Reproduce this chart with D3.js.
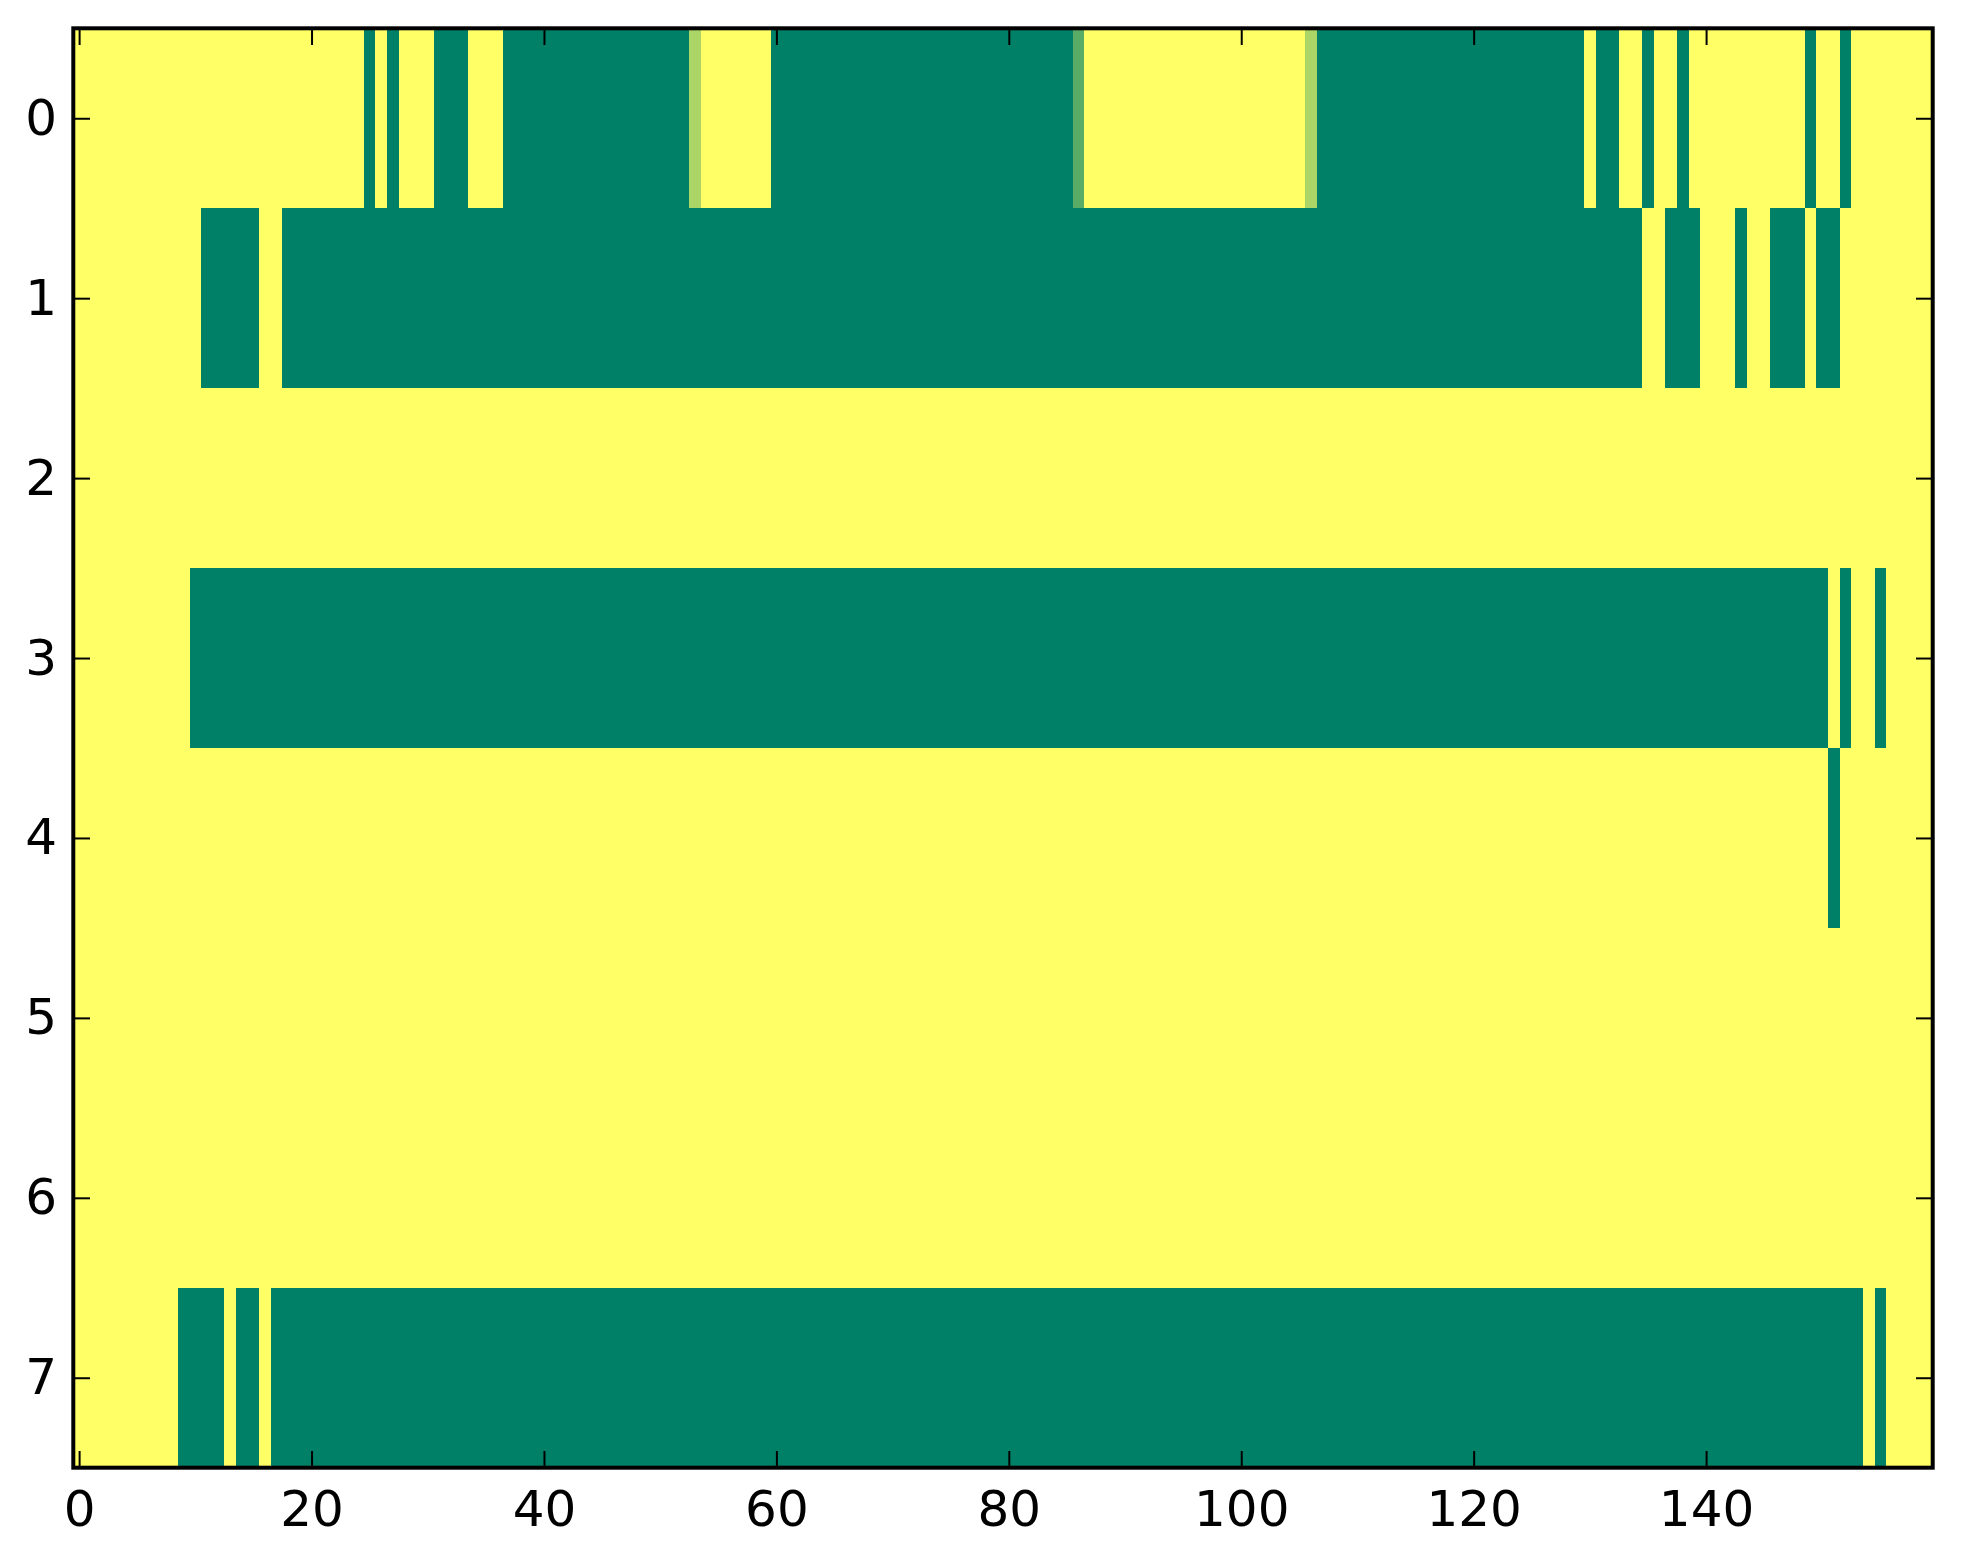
<!DOCTYPE html>
<html>
<head>
<meta charset="utf-8">
<script src="https://cdn.jsdelivr.net/npm/d3@7"></script>
<style>
  html, body { margin: 0; padding: 0; background: #ffffff; }
  svg { display: block; }
  text { font-family: "DejaVu Sans", sans-serif; }
</style>
</head>
<body>
<svg id="chart" width="1963" height="1564"></svg>
<script>
// ---- data: 8 rows x 160 columns, values in [0,1] (summer colormap) ----
const row0 = [
  1,1,1,1,1,1,1,1,1,1,
  1,1,1,1,1,1,1,1,1,1,
  1,1,1,1,1,0,1,0,1,1,
  1,0,0,0,1,1,1,0,0,0,
  0,0,0,0,0,0,0,0,0,0,
  0,0,0,0.67,1,1,1,1,1,1,
  0,0,0,0,0,0,0,0,0,0,
  0,0,0,0,0,0,0,0,0,0,
  0,0,0,0,0,0,0.35,1,1,1,
  1,1,1,1,1,1,1,1,1,1,
  1,1,1,1,1,1,0.67,0,0,0,
  0,0,0,0,0,0,0,0,0,0,
  0,0,0,0,0,0,0,0,0,0,
  1,0,0,1,1,0,1,1,0,1,
  1,1,1,1,1,1,1,1,1,0,
  1,1,0,1,1,1,1,1,1,1
];
const row1 = [
  1,1,1,1,1,1,1,1,1,1,
  1,0,0,0,0,0,1,1,0,0,
  0,0,0,0,0,0,0,0,0,0,
  0,0,0,0,0,0,0,0,0,0,
  0,0,0,0,0,0,0,0,0,0,
  0,0,0,0,0,0,0,0,0,0,
  0,0,0,0,0,0,0,0,0,0,
  0,0,0,0,0,0,0,0,0,0,
  0,0,0,0,0,0,0,0,0,0,
  0,0,0,0,0,0,0,0,0,0,
  0,0,0,0,0,0,0,0,0,0,
  0,0,0,0,0,0,0,0,0,0,
  0,0,0,0,0,0,0,0,0,0,
  0,0,0,0,0,1,1,0,0,0,
  1,1,1,0,1,1,0,0,0,1,
  0,0,1,1,1,1,1,1,1,1
];
const row2 = [
  1,1,1,1,1,1,1,1,1,1,
  1,1,1,1,1,1,1,1,1,1,
  1,1,1,1,1,1,1,1,1,1,
  1,1,1,1,1,1,1,1,1,1,
  1,1,1,1,1,1,1,1,1,1,
  1,1,1,1,1,1,1,1,1,1,
  1,1,1,1,1,1,1,1,1,1,
  1,1,1,1,1,1,1,1,1,1,
  1,1,1,1,1,1,1,1,1,1,
  1,1,1,1,1,1,1,1,1,1,
  1,1,1,1,1,1,1,1,1,1,
  1,1,1,1,1,1,1,1,1,1,
  1,1,1,1,1,1,1,1,1,1,
  1,1,1,1,1,1,1,1,1,1,
  1,1,1,1,1,1,1,1,1,1,
  1,1,1,1,1,1,1,1,1,1
];
const row3 = [
  1,1,1,1,1,1,1,1,1,1,
  0,0,0,0,0,0,0,0,0,0,
  0,0,0,0,0,0,0,0,0,0,
  0,0,0,0,0,0,0,0,0,0,
  0,0,0,0,0,0,0,0,0,0,
  0,0,0,0,0,0,0,0,0,0,
  0,0,0,0,0,0,0,0,0,0,
  0,0,0,0,0,0,0,0,0,0,
  0,0,0,0,0,0,0,0,0,0,
  0,0,0,0,0,0,0,0,0,0,
  0,0,0,0,0,0,0,0,0,0,
  0,0,0,0,0,0,0,0,0,0,
  0,0,0,0,0,0,0,0,0,0,
  0,0,0,0,0,0,0,0,0,0,
  0,0,0,0,0,0,0,0,0,0,
  0,1,0,1,1,0,1,1,1,1
];
const row4 = [
  1,1,1,1,1,1,1,1,1,1,
  1,1,1,1,1,1,1,1,1,1,
  1,1,1,1,1,1,1,1,1,1,
  1,1,1,1,1,1,1,1,1,1,
  1,1,1,1,1,1,1,1,1,1,
  1,1,1,1,1,1,1,1,1,1,
  1,1,1,1,1,1,1,1,1,1,
  1,1,1,1,1,1,1,1,1,1,
  1,1,1,1,1,1,1,1,1,1,
  1,1,1,1,1,1,1,1,1,1,
  1,1,1,1,1,1,1,1,1,1,
  1,1,1,1,1,1,1,1,1,1,
  1,1,1,1,1,1,1,1,1,1,
  1,1,1,1,1,1,1,1,1,1,
  1,1,1,1,1,1,1,1,1,1,
  1,0,1,1,1,1,1,1,1,1
];
const row5 = [
  1,1,1,1,1,1,1,1,1,1,
  1,1,1,1,1,1,1,1,1,1,
  1,1,1,1,1,1,1,1,1,1,
  1,1,1,1,1,1,1,1,1,1,
  1,1,1,1,1,1,1,1,1,1,
  1,1,1,1,1,1,1,1,1,1,
  1,1,1,1,1,1,1,1,1,1,
  1,1,1,1,1,1,1,1,1,1,
  1,1,1,1,1,1,1,1,1,1,
  1,1,1,1,1,1,1,1,1,1,
  1,1,1,1,1,1,1,1,1,1,
  1,1,1,1,1,1,1,1,1,1,
  1,1,1,1,1,1,1,1,1,1,
  1,1,1,1,1,1,1,1,1,1,
  1,1,1,1,1,1,1,1,1,1,
  1,1,1,1,1,1,1,1,1,1
];
const row6 = [
  1,1,1,1,1,1,1,1,1,1,
  1,1,1,1,1,1,1,1,1,1,
  1,1,1,1,1,1,1,1,1,1,
  1,1,1,1,1,1,1,1,1,1,
  1,1,1,1,1,1,1,1,1,1,
  1,1,1,1,1,1,1,1,1,1,
  1,1,1,1,1,1,1,1,1,1,
  1,1,1,1,1,1,1,1,1,1,
  1,1,1,1,1,1,1,1,1,1,
  1,1,1,1,1,1,1,1,1,1,
  1,1,1,1,1,1,1,1,1,1,
  1,1,1,1,1,1,1,1,1,1,
  1,1,1,1,1,1,1,1,1,1,
  1,1,1,1,1,1,1,1,1,1,
  1,1,1,1,1,1,1,1,1,1,
  1,1,1,1,1,1,1,1,1,1
];
const row7 = [
  1,1,1,1,1,1,1,1,1,0,
  0,0,0,1,0,0,1,0,0,0,
  0,0,0,0,0,0,0,0,0,0,
  0,0,0,0,0,0,0,0,0,0,
  0,0,0,0,0,0,0,0,0,0,
  0,0,0,0,0,0,0,0,0,0,
  0,0,0,0,0,0,0,0,0,0,
  0,0,0,0,0,0,0,0,0,0,
  0,0,0,0,0,0,0,0,0,0,
  0,0,0,0,0,0,0,0,0,0,
  0,0,0,0,0,0,0,0,0,0,
  0,0,0,0,0,0,0,0,0,0,
  0,0,0,0,0,0,0,0,0,0,
  0,0,0,0,0,0,0,0,0,0,
  0,0,0,0,0,0,0,0,0,0,
  0,0,0,0,1,0,1,1,1,1
];
const rows = [row0, row1, row2, row3, row4, row5, row6, row7];
const xTickValues = [0, 20, 40, 60, 80, 100, 120, 140];
const yTickValues = [0, 1, 2, 3, 4, 5, 6, 7];

// ---- layout ----
const plotLeft = 73.3, plotRight = 1932.7, plotTop = 28.3, plotBottom = 1467.7;
const nCols = row0.length, nRows = rows.length;
const tickLen = 16.7;

const svg = d3.select("#chart");

const x = d3.scaleLinear().domain([-0.5, nCols - 0.5]).range([plotLeft, plotRight]);
const y = d3.scaleLinear().domain([-0.5, nRows - 0.5]).range([plotTop, plotBottom]);
// matplotlib "summer" colormap: (v, 0.5+0.5v, 0.4)
const color = d3.scaleLinear().domain([0, 1]).range(["#008066", "#ffff66"]).interpolate(d3.interpolateRgb);

const cells = [];
rows.forEach((r, ri) => r.forEach((v, ci) => cells.push({ r: ri, c: ci, v })));

svg.append("g")
  .attr("shape-rendering", "crispEdges")
  .selectAll("rect")
  .data(cells)
  .join("rect")
  .attr("x", d => x(d.c - 0.5))
  .attr("y", d => y(d.r - 0.5))
  .attr("width", d => x(d.c + 0.5) - x(d.c - 0.5) + 0.3)
  .attr("height", d => y(d.r + 0.5) - y(d.r - 0.5) + 0.3)
  .attr("fill", d => color(d.v));

function styleAxis(g, showLabels) {
  g.select(".domain").remove();
  g.selectAll(".tick line").attr("stroke", "#000").attr("stroke-width", 2);
  g.selectAll(".tick text")
    .attr("fill", "#000")
    .style("font-family", '"DejaVu Sans", sans-serif')
    .style("font-size", "50px");
  if (!showLabels) g.selectAll(".tick text").remove();
}

svg.append("g")
  .attr("transform", `translate(0,${plotBottom})`)
  .call(d3.axisBottom(x).tickValues(xTickValues).tickSize(-tickLen).tickPadding(23).tickFormat(d3.format("d")))
  .call(g => styleAxis(g, true));

svg.append("g")
  .attr("transform", `translate(0,${plotTop})`)
  .call(d3.axisTop(x).tickValues(xTickValues).tickSize(-tickLen))
  .call(g => styleAxis(g, false));

svg.append("g")
  .attr("transform", `translate(${plotLeft},0)`)
  .call(d3.axisLeft(y).tickValues(yTickValues).tickSize(-tickLen).tickPadding(16.3).tickFormat(d3.format("d")))
  .call(g => styleAxis(g, true));

svg.append("g")
  .attr("transform", `translate(${plotRight},0)`)
  .call(d3.axisRight(y).tickValues(yTickValues).tickSize(-tickLen))
  .call(g => styleAxis(g, false));

// frame
svg.append("rect")
  .attr("x", plotLeft).attr("y", plotTop)
  .attr("width", plotRight - plotLeft).attr("height", plotBottom - plotTop)
  .attr("fill", "none").attr("stroke", "#000").attr("stroke-width", 4);
</script>
</body>
</html>
